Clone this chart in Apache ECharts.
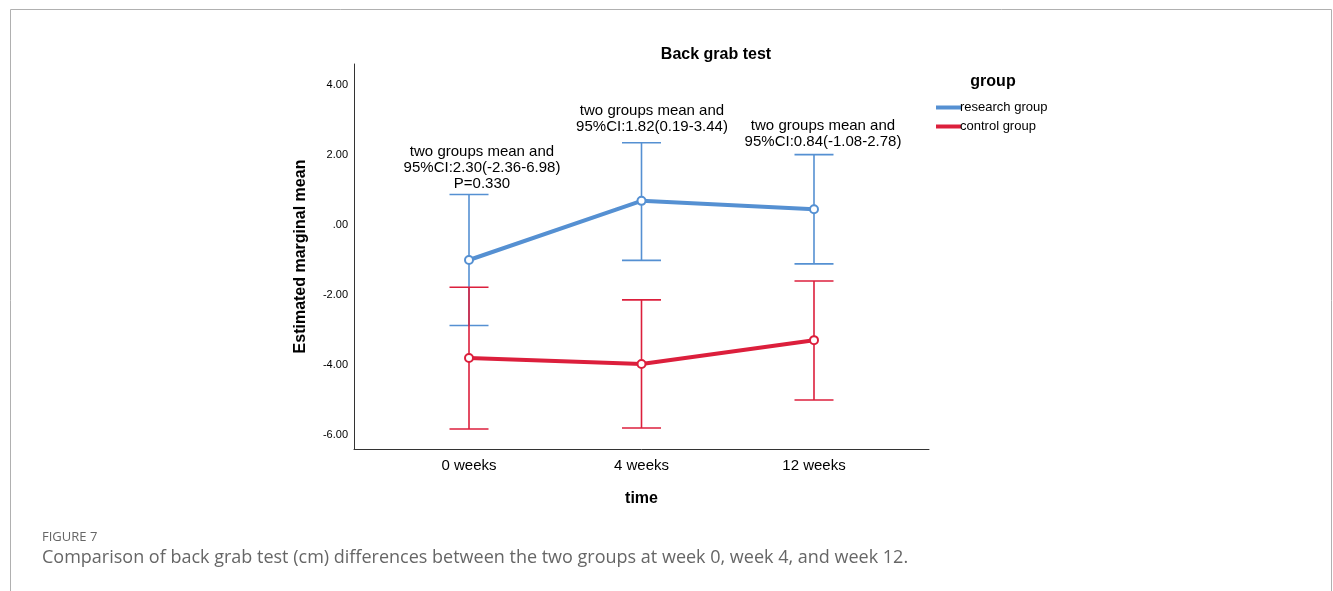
<!DOCTYPE html>
<html>
<head>
<meta charset="utf-8">
<script src="https://cdn.jsdelivr.net/npm/echarts@6/dist/echarts.min.js"></script>
<style>
  html, body { margin: 0; padding: 0; background: #fff; }
  #main { width: 1333px; height: 591px; }
</style>
</head>
<body>
<div id="main"></div>
<script>
// time points
var timeLabels = ['0 weeks', '4 weeks', '12 weeks'];
var yTicks = [-6, -4, -2, 0, 2, 4];

// estimated marginal means + 95% CI
var researchMean = [-1.00, 0.69, 0.45];
var researchLow = [-2.87, -1.01, -1.11];
var researchHigh = [0.87, 2.35, 2.01];

var controlMean = [-3.80, -3.97, -3.29];
var controlLow = [-5.83, -5.80, -5.00];
var controlHigh = [-1.78, -2.14, -1.60];

var notes = [
  'two groups mean and\n95%CI:2.30(-2.36-6.98)\nP=0.330',
  'two groups mean and\n95%CI:1.82(0.19-3.44)',
  'two groups mean and\n95%CI:0.84(-1.08-2.78)'
];

var blue = '#5590d2';
var red = '#dc1f3c';
var font = '"Liberation Sans", Arial, sans-serif';

function pairs(vals) {
  return vals.map(function (v, i) { return [i, v]; });
}
function bars(low, high) {
  return low.map(function (v, i) { return [i, v, high[i]]; });
}

function errorBar(color) {
  return function (params, api) {
    var lo = api.coord([api.value(0), api.value(1)]);
    var hi = api.coord([api.value(0), api.value(2)]);
    var half = 19.5;
    var style = { stroke: color, lineWidth: 1.6 };
    return {
      type: 'group',
      children: [
        { type: 'line', shape: { x1: lo[0], y1: lo[1], x2: hi[0], y2: hi[1] }, style: style },
        { type: 'line', shape: { x1: lo[0] - half, y1: lo[1], x2: lo[0] + half, y2: lo[1] }, style: style },
        { type: 'line', shape: { x1: hi[0] - half, y1: hi[1], x2: hi[0] + half, y2: hi[1] }, style: style }
      ]
    };
  };
}

var chart = echarts.init(document.getElementById('main'));

var option = {
  animation: false,
  title: [{
    text: 'Back grab test',
    left: 711, top: 42, textAlign: 'center',
    textStyle: { fontFamily: font, fontSize: 16, fontWeight: 'bold', color: '#000' }
  }, {
    text: 'group',
    left: 988, top: 69, textAlign: 'center',
    textStyle: { fontFamily: font, fontSize: 16, fontWeight: 'bold', color: '#000' }
  }],
  legend: {
    orient: 'vertical',
    left: 931, top: 96,
    itemWidth: 25, itemHeight: 4, itemGap: 6,
    icon: 'rect',
    data: ['research group', 'control group'],
    textStyle: { fontFamily: font, fontSize: 13, color: '#000', padding: [0, 0, 0, -6] }
  },
  grid: { left: 354, top: 64, right: 404, bottom: 142 },
  xAxis: {
    type: 'value',
    min: -0.6667, max: 2.6667,
    name: 'time',
    nameLocation: 'middle',
    nameGap: 42,
    nameTextStyle: { fontFamily: font, fontSize: 16, fontWeight: 'bold', color: '#000' },
    axisLine: { onZero: false, lineStyle: { color: '#333', width: 1 } },
    axisTick: { show: false },
    splitLine: { show: false },
    axisLabel: {
      customValues: [0, 1, 2],
      formatter: function (v) { return timeLabels[Math.round(v)]; },
      fontFamily: font, fontSize: 15, color: '#000', margin: 9
    }
  },
  yAxis: {
    type: 'value',
    min: -6.4, max: 4.6,
    name: 'Estimated marginal mean',
    nameLocation: 'middle',
    nameGap: 45,
    nameTextStyle: { fontFamily: font, fontSize: 16, fontWeight: 'bold', color: '#000' },
    axisLine: { show: true, onZero: false, lineStyle: { color: '#333', width: 1 } },
    axisTick: { show: false },
    splitLine: { show: false },
    axisLabel: {
      customValues: yTicks,
      formatter: function (v) {
        return v === 0 ? '.00' : v.toFixed(2);
      },
      fontFamily: font, fontSize: 11, color: '#000', margin: 6
    }
  },
  series: [{
    type: 'custom',
    name: 'research CI',
    renderItem: errorBar(blue),
    data: bars(researchLow, researchHigh),
    z: 2
  }, {
    type: 'custom',
    name: 'control CI',
    renderItem: errorBar(red),
    data: bars(controlLow, controlHigh),
    z: 2
  }, {
    type: 'line',
    name: 'research group',
    data: pairs(researchMean),
    color: blue,
    lineStyle: { width: 4, color: blue },
    symbol: 'emptyCircle', symbolSize: 8,
    itemStyle: { color: blue, borderWidth: 1.5 },
    z: 3
  }, {
    type: 'line',
    name: 'control group',
    data: pairs(controlMean),
    color: red,
    lineStyle: { width: 4, color: red },
    symbol: 'emptyCircle', symbolSize: 8,
    itemStyle: { color: red, borderWidth: 1.5 },
    z: 3
  }],
  graphic: [
    // frame around the figure
    { type: 'polyline', shape: { points: [[10.5, 591], [10.5, 9.5], [1331.5, 9.5], [1331.5, 591]] },
      style: { stroke: '#b0b0b0', lineWidth: 1, fill: null } },
    { type: 'text', x: 482, y: 144, style: { text: notes[0], textAlign: 'center', font: '15px ' + font, lineHeight: 16, fill: '#000' } },
    { type: 'text', x: 652, y: 103, style: { text: notes[1], textAlign: 'center', font: '15px ' + font, lineHeight: 16, fill: '#000' } },
    { type: 'text', x: 823, y: 118, style: { text: notes[2], textAlign: 'center', font: '15px ' + font, lineHeight: 16, fill: '#000' } },
    { type: 'text', x: 42, y: 531, style: { text: 'FIGURE 7', font: '13px "Open Sans", sans-serif', fill: '#666' } },
    { type: 'text', x: 42, y: 549, style: { text: 'Comparison of back grab test (cm) differences between the two groups at week 0, week 4, and week 12.', font: '18px "Open Sans", sans-serif', fill: '#666' } }
  ]
};

chart.setOption(option);
</script>
</body>
</html>
